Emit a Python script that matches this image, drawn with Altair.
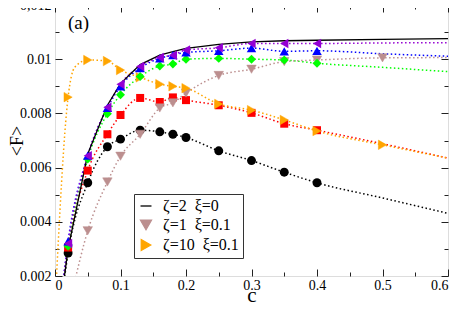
import altair as alt
import pandas as pd

# ---------------- data ----------------
c_pts = [0.02, 0.05, 0.08, 0.1, 0.13, 0.16, 0.18, 0.2, 0.25, 0.3, 0.35, 0.4]
F_black = [0.00285, 0.00544, 0.00677, 0.00705, 0.00738, 0.00732, 0.00723, 0.00711, 0.00662, 0.00626, 0.00583, 0.00544]
F_red = [0.00305, 0.00589, 0.00723, 0.00794, 0.00857, 0.00842, 0.00859, 0.00849, 0.0083, 0.00802, 0.00762, 0.00738]
F_green = [0.0031, 0.00632, 0.00799, 0.00869, 0.00936, 0.00975, 0.00982, 0.0100, 0.01003, 0.0100, 0.00997, 0.00985]
F_blue = [0.00328, 0.00644, 0.0082, 0.0090, 0.00967, 0.01003, 0.01015, 0.01025, 0.01031, 0.01041, 0.01029, 0.01031]
F_purple = [0.0032, 0.00644, 0.00823, 0.00908, 0.00973, 0.01006, 0.01015, 0.01034, 0.01042, 0.01058, 0.01058, 0.01058]

c_orange = [0.02, 0.05, 0.08, 0.1, 0.13, 0.16, 0.18, 0.2, 0.25, 0.3, 0.35, 0.4, 0.5]
F_orange = [0.0086, 0.00997, 0.00993, 0.0096, 0.00933, 0.00908, 0.009, 0.00893, 0.00835, 0.00812, 0.00776, 0.00735, 0.00684]
c_brown = [0.05, 0.08, 0.1, 0.13, 0.16, 0.18, 0.2, 0.25, 0.3, 0.35, 0.4, 0.5]
F_brown = [0.00367, 0.00547, 0.00642, 0.00723, 0.0082, 0.00839, 0.00875, 0.0094, 0.00963, 0.00991, 0.00997, 0.01005]

# solid line (zeta=2, xi=0)
c_solid = [0.01, 0.02, 0.05, 0.08, 0.1, 0.13, 0.16, 0.18, 0.2, 0.25, 0.3, 0.35, 0.4, 0.5, 0.6]
F_solid = [0.0012, 0.0030, 0.0065, 0.0083, 0.0091, 0.0098, 0.01015, 0.01028, 0.0104, 0.01055, 0.01064, 0.01068, 0.0107, 0.01073, 0.01076]

# dotted fit curves: extra points at the curve ends
fit_start = {"black": (0.01, 0.0011), "red": (0.01, 0.0013), "green": (0.01, 0.0013),
             "blue": (0.01, 0.0013), "purple": (0.01, 0.0013), "brown": (0.03, 0.0018),
             "orange": (0.0, 0.0009)}
fit_end = {"black": [(0.5, 0.00488), (0.6, 0.00431)], "red": [(0.5, 0.00688), (0.6, 0.00635)],
           "green": [(0.5, 0.0097), (0.6, 0.00954)], "blue": [(0.5, 0.0102), (0.6, 0.01011)],
           "purple": [(0.5, 0.0106), (0.6, 0.01061)], "brown": [(0.6, 0.01006)],
           "orange": [(0.6, 0.00635)]}
orange_bend = (0.03, 0.0097)

series_names = ["black", "red", "green", "blue", "purple", "brown", "orange"]
series_colors = ["#000000", "#ff0000", "#00ff00", "#0000ff", "#9400d3", "#bc8f8f", "#ffa500"]

legend_labels = ["ζ=2\u00a0\u00a0ξ=0", "ζ=1\u00a0\u00a0ξ=0.1", "ζ=10\u00a0\u00a0ξ=0.1"]
legend_shapes = ["stroke", "triangle-down", "triangle-right"]
legend_colors = ["#000000", "#bc8f8f", "#ffa500"]

x_label_vals = [0, 0.1, 0.2, 0.3, 0.4, 0.5, 0.6]
x_tick_vals = [0, 0.05, 0.1, 0.15, 0.2, 0.25, 0.3, 0.35, 0.4, 0.45, 0.5, 0.55, 0.6]
y_label_vals = [0.002, 0.004, 0.006, 0.008, 0.01, 0.012]
y_tick_vals = [0.002, 0.003, 0.004, 0.005, 0.006, 0.007, 0.008, 0.009, 0.010, 0.011, 0.012]

W, H = 393, 271
FONT = "Liberation Serif, Times New Roman, Times, serif"

# ---------------- tables ----------------
marker_F = {"black": F_black, "red": F_red, "green": F_green, "blue": F_blue, "purple": F_purple}
rows = []
for s in series_names:
    if s in marker_F:
        pts = list(zip(c_pts, marker_F[s]))
    elif s == "brown":
        pts = list(zip(c_brown, F_brown))
    else:
        pts = list(zip(c_orange, F_orange))
        pts.insert(1, orange_bend)
    pts = [fit_start[s]] + pts + fit_end[s]
    for i, (c, f) in enumerate(pts):
        rows.append({"series": s, "c": c, "F": f, "order": i})
lines_df = pd.DataFrame(rows)

solid_df = pd.DataFrame({"c": c_solid, "F": F_solid})

def mk(cs, fs):
    return pd.DataFrame({"c": cs, "F": fs})

leg_df = pd.concat([
    pd.DataFrame({"c": c_brown, "F": F_brown, "lab": legend_labels[1]}),
    pd.DataFrame({"c": c_orange, "F": F_orange, "lab": legend_labels[2]}),
])

xs = alt.Scale(domain=[0, 0.6], nice=False, zero=False)
ys = alt.Scale(domain=[0.002, 0.012], nice=False, zero=False)

major_x = "abs(datum.value*10 - round(datum.value*10)) < 0.01"
major_y = "abs(datum.value*500 - round(datum.value*500)) < 0.01"

def tick_axis(orient, offset, vals, test):
    return alt.Axis(orient=orient, offset=offset, values=vals, labels=False, domain=False,
                    grid=False, ticks=True, title=None, tickColor="#222", tickWidth=1,
                    tickSize={"condition": {"test": test, "value": 7}, "value": 4})

x_lab_axis = alt.Axis(orient="bottom", values=x_label_vals, ticks=False, domain=False, grid=False,
                      labelExpr="toString(datum.value)", labelFont=FONT, labelFontSize=14,
                      labelColor="black", labelPadding=2, title="c", titleFont=FONT,
                      titleFontSize=21, titleFontWeight="normal", titleColor="black",
                      titleBaseline="alphabetic", titleY=25)
y_lab_axis = alt.Axis(orient="left", values=y_label_vals, ticks=False, domain=False, grid=False,
                      labelExpr="datum.value > 0.0115 ? '0,012' : toString(round(datum.value*1000)/1000)",
                      labelFont=FONT, labelFontSize=14, labelColor="black", labelPadding=4,
                      title="<F>", titleFont=FONT, titleFontSize=18, titleFontWeight="normal",
                      titleColor="black", titleBaseline="alphabetic", titleX=-33)

lines = alt.Chart(lines_df).mark_line(strokeDash=[1.5, 2.5], strokeWidth=1.5,
                                      interpolate="monotone", clip=True).encode(
    x=alt.X("c:Q", scale=xs, axis=x_lab_axis),
    y=alt.Y("F:Q", scale=ys, axis=y_lab_axis),
    color=alt.Color("series:N", scale=alt.Scale(domain=series_names, range=series_colors), legend=None),
    order="order:Q",
)

solid = alt.Chart(solid_df).mark_line(color="black", strokeWidth=1.3, clip=True).encode(
    x=alt.X("c:Q", scale=xs, axis=tick_axis("top", -H, x_tick_vals, major_x)),
    y=alt.Y("F:Q", scale=ys, axis=tick_axis("right", -W, y_tick_vals, major_y)),
)

def pts(df, shape, color, size, axes=None):
    xa = axes[0] if axes else None
    ya = axes[1] if axes else None
    return alt.Chart(df).mark_point(shape=shape, filled=True, color=color, size=size,
                                    opacity=1, clip=True).encode(
        x=alt.X("c:Q", scale=xs, axis=xa),
        y=alt.Y("F:Q", scale=ys, axis=ya),
    )

circles = pts(mk(c_pts, F_black), "circle", "#000000", 80,
              axes=(tick_axis("bottom", -H, x_tick_vals, major_x),
                    tick_axis("left", -W, y_tick_vals, major_y)))
squares = pts(mk(c_pts, F_red), "square", "#ff0000", 64)
diamonds = pts(mk(c_pts, F_green), "diamond", "#00ff00", 80)
tri_up = pts(mk(c_pts, F_blue), "triangle-up", "#0000ff", 90)
tri_left = pts(mk(c_pts, F_purple), "triangle-left", "#9400d3", 90)

legend_layer = alt.Chart(leg_df).mark_point(filled=True, size=90, opacity=1, clip=True,
                                            strokeWidth=0.5).encode(
    x=alt.X("c:Q", scale=xs, axis=None),
    y=alt.Y("F:Q", scale=ys, axis=None),
    shape=alt.Shape("lab:N", scale=alt.Scale(domain=legend_labels, range=legend_shapes),
                    legend=alt.Legend(title=None, orient="none", legendX=79, legendY=189,
                                      padding=4, strokeColor="#333", fillColor="white",
                                      labelFont=FONT, labelFontSize=16, labelColor="black",
                                      labelOffset=9, rowPadding=3, symbolSize=120,
                                      symbolStrokeWidth=1.3, labelLimit=200)),
    fill=alt.Fill("lab:N", scale=alt.Scale(domain=legend_labels, range=legend_colors), legend=alt.Legend(title=None)),
    stroke=alt.Stroke("lab:N", scale=alt.Scale(domain=legend_labels, range=legend_colors), legend=alt.Legend(title=None)),
)

label_df = pd.DataFrame({"t": ["(a)"]})
label = alt.Chart(label_df).mark_text(font=FONT, fontSize=19, align="left", baseline="alphabetic",
                                      color="black").encode(
    text="t:N", x=alt.value(13), y=alt.value(24))

chart = alt.layer(lines, solid, circles, squares, legend_layer, diamonds, tri_up, tri_left, label).resolve_axis(
    x="independent", y="independent"
).properties(
    width=W, height=H,
    autosize=alt.AutoSizeParams(type="none"),
    padding={"left": 47, "top": -3, "right": 1, "bottom": 26},
).configure_view(stroke="#777", strokeWidth=2).configure(background="white")

chart.save("out.html", embed_options={"renderer": "svg", "actions": False})
